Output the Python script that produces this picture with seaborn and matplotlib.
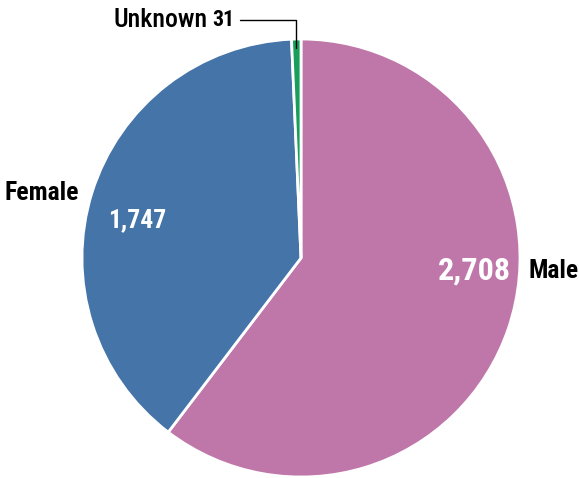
import matplotlib
matplotlib.use("Agg")
import matplotlib.pyplot as plt
from matplotlib import font_manager
import seaborn as sns

sns.set_theme(style="white")

# pick a narrow font if there is one
installed = {f.name for f in font_manager.fontManager.ttflist}
family = "DejaVu Sans"
for name in ["Roboto Condensed", "Liberation Sans Narrow", "Open Sans Condensed"]:
    if name in installed:
        family = name
        break
plt.rcParams['font.family'] = [family, 'DejaVu Sans']
plt.rcParams['font.stretch'] = 'condensed'

# data
labels = ["Male", "Female", "Unknown"]
counts = [2708, 1747, 31]
colors = ["#BF77AA", "#4474A8", "#1A9E5C"]

W, H = 579, 478
fig = plt.figure(figsize=(W / 100, H / 100), dpi=100)
fig.patch.set_facecolor("white")

# pie centre / radius in pixels
cx, cy, r = 301, 258, 219
ax = fig.add_axes([(cx - r) / W, (H - cy - r) / H, 2 * r / W, 2 * r / H])

ax.pie(counts, colors=colors, startangle=90, counterclock=False, radius=1,
       wedgeprops=dict(edgecolor="white", linewidth=2))
ax.set_xlim(-1, 1)
ax.set_ylim(-1, 1)
ax.set_aspect("equal")
ax.axis("off")


def px(x, y):
    return (x - cx) / r, (cy - y) / r


renderer = fig.canvas.get_renderer()


def fit_text(x, y, s, width, ha, color="black", weight="bold"):
    # draw text and resize it so it spans about `width` pixels
    t = ax.text(*px(x, y), s, ha=ha, va="center", fontsize=20,
                fontweight=weight, color=color, clip_on=False)
    w = t.get_window_extent(renderer).width
    t.set_fontsize(20 * width / w)
    return t


# names outside
fit_text(79, 193, labels[1], 74, "right")
fit_text(528, 271, labels[0], 50, "left")

# numbers inside
fit_text(137, 220, f"{counts[1]:,}", 58, "center", color="white")
fit_text(474, 271, f"{counts[0]:,}", 73, "center", color="white")

# unknown label with leader line
fit_text(208, 20, labels[2], 94, "right", weight="medium")
fit_text(212, 20, f"{counts[2]}", 22, "left")
x0, y0 = px(240, 20)
x1, y1 = px(296, 20)
x2, y2 = px(296, 48)
ax.plot([x0, x1, x2], [y0, y1, y2], color="black", linewidth=1, clip_on=False)

fig.savefig("out.png", dpi=100, facecolor="white")
